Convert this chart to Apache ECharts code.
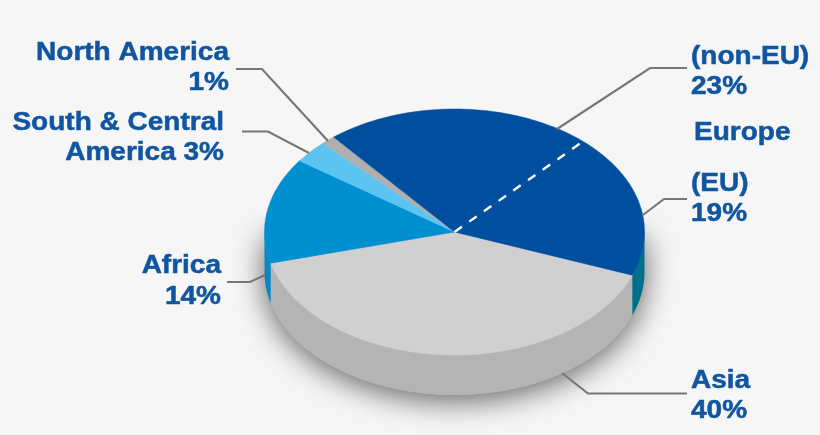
<!doctype html>
<html lang="en">
<head>
    <meta charset="utf-8" />
    <title>Pie</title>
    <script src="https://cdn.jsdelivr.net/npm/echarts@6/dist/echarts.min.js"></script>
    <style>
        html, body { margin: 0; padding: 0; background: #f6f6f7; }
        #chart { width: 820px; height: 435px; }
    </style>
</head>
<body>
<div id="chart"></div>
<script>
    // clockwise from the Asia / EU edge
    var regions = ['Asia', 'Africa', 'South & Central America', 'North America', 'Europe (non-EU)', 'Europe (EU)'];
    var shares = [40.2, 13.9, 3, 1.2, 22.8, 18.9];
    var topColors = ['#d0d0d0', '#0090d0', '#5bc4f1', '#afafaf', '#004f9f', '#004f9f'];
    var sideColors = ['#b4b4b4', '#0a86c4', '#4aa8d0', '#909090', '#006f8c', '#006f8c'];

    var labelColor = '#0f559f';
    var lineColor = '#777777';

    // tilted pie, ellipse centre and radii in pixels
    var cx = 454.5, cy = 232, rx = 190, ry = 123, depth = 40;
    var startDeg = 20.6;

    var total = shares.reduce(function (a, b) { return a + b; }, 0);

    function pct(i) {
        return Math.round(shares[i]) + '%';
    }

    function sliceRange(i) {
        var before = shares.slice(0, i).reduce(function (a, b) { return a + b; }, 0);
        return [startDeg + before / total * 360, startDeg + (before + shares[i]) / total * 360];
    }

    function rimPoint(deg, drop) {
        var t = deg * Math.PI / 180;
        return [cx + rx * Math.cos(t), cy + drop + ry * Math.sin(t)];
    }

    function arc(from, to, drop) {
        var pts = [];
        var steps = Math.max(2, Math.ceil(Math.abs(to - from)));
        for (var s = 0; s <= steps; s++) {
            pts.push(rimPoint(from + (to - from) * s / steps, drop));
        }
        return pts;
    }

    // soft shadow, lower half only so the back rim stays clean
    function renderShadow() {
        return {
            type: 'polygon',
            shape: { points: [rimPoint(0, 0)].concat(arc(0, 180, depth), [rimPoint(180, 0)]) },
            style: {
                fill: '#b4b4b4',
                shadowBlur: 30,
                shadowOffsetY: 6,
                shadowColor: 'rgba(0,0,0,0.6)'
            }
        };
    }

    // only the front half of the wall can be seen
    function renderSide(params) {
        var range = sliceRange(params.dataIndex);
        var parts = [];
        [[0, 180], [360, 540]].forEach(function (front) {
            var a = Math.max(range[0], front[0]);
            var b = Math.min(range[1], front[1]);
            if (b > a) {
                parts.push({
                    type: 'polygon',
                    shape: { points: arc(a, b, 0).concat(arc(b, a, depth)) },
                    style: { fill: sideColors[params.dataIndex] }
                });
            }
        });
        return { type: 'group', children: parts };
    }

    function renderTop(params) {
        var range = sliceRange(params.dataIndex);
        var color = topColors[params.dataIndex];
        return {
            type: 'polygon',
            shape: { points: [[cx, cy]].concat(arc(range[0], range[1], 0)) },
            style: { fill: color, stroke: color, lineWidth: 0.5 }
        };
    }

    // white dashes on the non-EU / EU edge
    function renderDash() {
        var end = rimPoint(sliceRange(5)[0], 0);
        return {
            type: 'line',
            shape: { x1: cx, y1: cy, x2: end[0], y2: end[1] },
            style: { stroke: '#ffffff', lineWidth: 2.4, lineDash: [9, 9] }
        };
    }

    function seriesData() {
        return shares.map(function (v) { return [v]; });
    }

    var labels = [
        { text: 'North America\n' + pct(3), x: 229, y: 68, align: 'right' },
        { text: 'South & Central\nAmerica ' + pct(2), x: 224, y: 138, align: 'right' },
        { text: 'Africa\n' + pct(1), x: 221, y: 281.5, align: 'right' },
        { text: '(non-EU)\n' + pct(4), x: 691, y: 72, align: 'left' },
        { text: 'Europe', x: 694, y: 133, align: 'left' },
        { text: '(EU)\n' + pct(5), x: 691, y: 199, align: 'left' },
        { text: 'Asia\n' + pct(0), x: 691, y: 396, align: 'left' }
    ];

    var leaders = [
        [[236, 69], [262, 69], [328, 141]],
        [[242, 131.5], [268, 131.5], [309, 153]],
        [[227, 282], [250, 282], [265, 275]],
        [[687, 68], [650, 68], [557, 129]],
        [[687, 199], [664, 199], [643, 215]],
        [[687, 393.5], [588, 393.5], [562, 373]]
    ];

    var graphics = leaders.map(function (pts) {
        return {
            type: 'polyline',
            silent: true,
            shape: { points: pts },
            style: { stroke: lineColor, lineWidth: 2.2, fill: null },
            z: 20
        };
    }).concat(labels.map(function (l) {
        return {
            type: 'text',
            silent: true,
            x: l.x,
            y: l.y,
            scaleX: 1.12,
            style: {
                text: l.text,
                align: l.align,
                verticalAlign: 'middle',
                fill: labelColor,
                stroke: labelColor,
                lineWidth: 0.5,
                font: 'bold 25px "Liberation Sans", Arial, sans-serif',
                lineHeight: 30.5
            },
            z: 20
        };
    }));

    var chart = echarts.init(document.getElementById('chart'));
    chart.setOption({
        animation: false,
        backgroundColor: '#f6f6f7',
        graphic: graphics,
        series: [
            { type: 'custom', coordinateSystem: 'none', silent: true, z: 1, renderItem: renderShadow, data: [[total]] },
            { type: 'custom', coordinateSystem: 'none', silent: true, z: 2, renderItem: renderSide, data: seriesData() },
            { type: 'custom', coordinateSystem: 'none', silent: true, z: 3, renderItem: renderTop, data: seriesData() },
            { type: 'custom', coordinateSystem: 'none', silent: true, z: 4, renderItem: renderDash, data: [[shares[4]]] }
        ]
    });
</script>
</body>
</html>
